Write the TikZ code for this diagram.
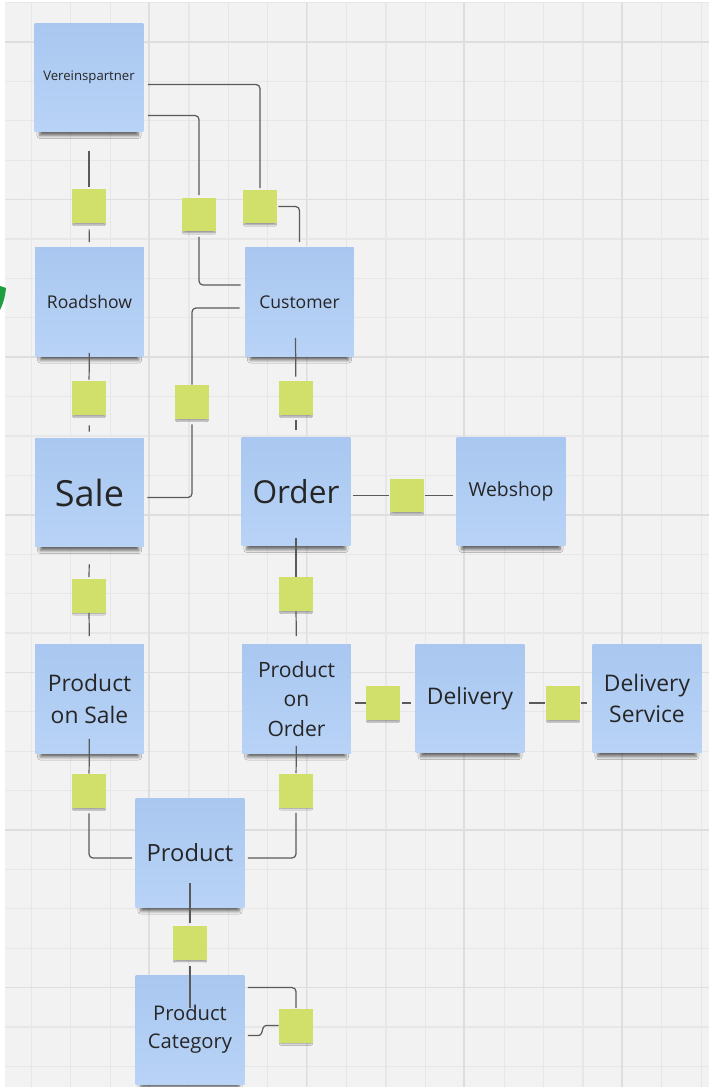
\documentclass[tikz,border=0pt]{standalone}
\usepackage{fontspec}
\setmainfont{Open Sans}
\usetikzlibrary{shadows.blur}
\definecolor{board}{HTML}{F2F2F2}
\definecolor{gridminor}{HTML}{E7E7E7}
\definecolor{gridmajor}{HTML}{DEDEDE}
\definecolor{notetop}{HTML}{A9C7F0}
\definecolor{notebot}{HTML}{B8D3F6}
\definecolor{stickgreen}{HTML}{D0E06B}
\definecolor{wirecol}{HTML}{5A5A5A}
\definecolor{ink}{HTML}{262626}
\definecolor{leafgreen}{HTML}{1E9E3E}
\tikzset{
  note/.style={rectangle, minimum width=2.18cm, minimum height=2.18cm, inner sep=0pt,
    align=center, text=ink, top color=notetop, bottom color=notebot,
    blur shadow={shadow xshift=0pt, shadow yshift=-5.6pt, shadow scale=0.9,
      shadow blur radius=2pt, shadow opacity=60}},
  card/.style={rectangle, minimum size=0.68cm, inner sep=0pt, fill=stickgreen,
    blur shadow={shadow xshift=0pt, shadow yshift=-2pt, shadow scale=0.9,
      shadow blur radius=0.8pt, shadow opacity=35}},
  wire/.style={draw=wirecol, line width=0.7pt, rounded corners=0.08cm},
  fs/.style 2 args={font=\fontsize{#1}{#2}\selectfont},
}
\begin{document}
\begin{tikzpicture}[x=0.02cm, y=-0.02cm]
  \useasboundingbox (0,0) rectangle (709,1087);
  \fill[white] (0,0) rectangle (709,1087);
  \fill[board] (5,3) rectangle (709,1087);
  \foreach \g in {0,...,17}
    \draw[gridminor, line width=0.6pt] ({31.4+39.4*\g},3) -- ++(0,1084);
  \foreach \g in {0,...,27}
    \draw[gridminor, line width=0.6pt] (5,{2.6+39.4*\g}) -- ++(704,0);
  \foreach \g in {0,...,3}
    \draw[gridmajor, line width=0.9pt] ({149+157.6*\g},3) -- ++(0,1084);
  \foreach \g in {0,...,6}
    \draw[gridmajor, line width=0.9pt] (5,{42+157.6*\g}) -- ++(704,0);
  \fill[leafgreen] (0,286) -- (6,288) .. controls (5,298) and (3,304) .. (0,310) -- cycle;

  % entities
  \node[note, fs={7.5}{9}] (vp) at (89,77.5) {Vereinspartner};
  \node[note, fs={10}{12}] (road) at (89.5,302) {Roadshow};
  \node[note, fs={10}{12}] (cust) at (299.5,302) {Customer};
  \node[note, fs={20.5}{24}] (sale) at (89.5,492.5) {Sale};
  \node[note, fs={18}{22}] (order) at (296,491.5) {Order};
  \node[note, fs={11}{13}] (web) at (511,491.5) {Webshop};
  \node[note, fs={13}{18.7}] (pos) at (89.5,699) {Product\\on Sale};
  \node[note, fs={12}{17}] (poo) at (296.5,699) {Product\\on\\Order};
  \node[note, fs={13}{18}] (deliv) at (470,698.5) {Delivery};
  \node[note, fs={13}{18}] (dserv) at (647,698.5) {Delivery\\Service};
  \node[note, fs={13.5}{16}] (prod) at (190,853) {Product};
  \node[note, fs={11.5}{16}] (pcat) at (190,1029.5) {Product\\Category};

  % relations
  \node[card] (jvr) at (89,206) {};
  \node[card] (jvc1) at (199,214.5) {};
  \node[card] (jvc2) at (260,206.5) {};
  \node[card] (jrs) at (89,398) {};
  \node[card] (jcs) at (192,402) {};
  \node[card] (jco) at (296,398) {};
  \node[card] (jsp) at (89,595.5) {};
  \node[card] (jop) at (296,594) {};
  \node[card] (jow) at (407,495.5) {};
  \node[card] (jpd) at (383,703) {};
  \node[card] (jdd) at (563,703) {};
  \node[card] (jpsp) at (89,791) {};
  \node[card] (jpop) at (296,790.5) {};
  \node[card] (jppc) at (190,943) {};
  \node[card] (jpcc) at (296,1025.5) {};

  \draw[wire, shorten <=0.38cm, shorten >=0.04cm] (vp) -- (jvr);
  \draw[wire, shorten <=0.12cm, shorten >=0.1cm] (jvr) -- (road);
  \draw[wire, shorten >=0.02cm] ([shift={(4,7)}]vp.east) -| (jvc2);
  \draw[wire, shorten >=0.04cm] ([shift={(4,38)}]vp.east) -| (jvc1);
  \draw[wire, shorten <=0.1cm] (jvc1) |- ([shift={(-4,-17)}]cust.west);
  \draw[wire, shorten <=0.02cm, shorten >=0.1cm] (jvc2) -| (cust);

  \draw[wire, shorten <=0.02cm] ([shift={(-4,6)}]cust.west) -| (jcs);
  \draw[wire, shorten <=0.1cm] (jcs) |- ([shift={(3,5)}]sale.east);
  \draw[wire, shorten >=0.08cm] ([shift={(-4,-19)}]cust.south) -- (jco);
  \draw[wire, shorten <=-0.08cm, shorten >=0.02cm] (road) -- (jrs);
  \draw[wire, shorten <=0.2cm, shorten >=0.12cm] (jrs) -- (sale);
  \draw[wire, shorten <=0.1cm, shorten >=0.14cm] (jco) -- (order);

  \draw[wire, shorten <=0.34cm, shorten >=0.02cm] (sale) -- (jsp);
  \draw[wire, shorten >=0.16cm] (jsp) -- (pos);
  \draw[wire, shorten <=-0.16cm] (order) -- (jop);
  \draw[wire, shorten >=0.16cm] (jop) -- (poo);
  \draw[wire, shorten <=0.04cm, shorten >=0.02cm] (jow -| order.east) -- (jow);
  \draw[wire, shorten <=0.02cm, shorten >=0.06cm] (jow) -- (jow -| web.west);

  \draw[wire, shorten <=0.08cm] (jpd -| poo.east) -- (jpd);
  \draw[wire, shorten <=0.04cm, shorten >=0.08cm] (jpd) -- (jpd -| deliv.west);
  \draw[wire, shorten <=0.08cm, shorten >=0.02cm] (jdd -| deliv.east) -- (jdd);
  \draw[wire, shorten <=0.02cm, shorten >=0.1cm] (jdd) -- (jdd -| dserv.west);

  \draw[wire, shorten <=-0.3cm] (pos) -- (jpsp);
  \draw[wire, shorten <=0.1cm] (jpsp) |- ([shift={(-3,5)}]prod.west);
  \draw[wire, shorten <=-0.16cm] (poo) -- (jpop);
  \draw[wire, shorten <=0.1cm] (jpop) |- ([shift={(3,5)}]prod.east);
  \draw[wire, shorten <=-0.5cm, shorten >=0.06cm] (prod) -- (jppc);
  \draw[wire, shorten <=0.12cm, shorten >=-0.66cm] (jppc) -- (pcat);
  \draw[wire] ([shift={(3,-42)}]pcat.east) -| (jpcc);
  \draw[wire, rounded corners=0.05cm] ([shift={(3,6)}]pcat.east) -- ++(13,0) -- ++(3,-10) -- (jpcc.west);
\end{tikzpicture}
\end{document}
